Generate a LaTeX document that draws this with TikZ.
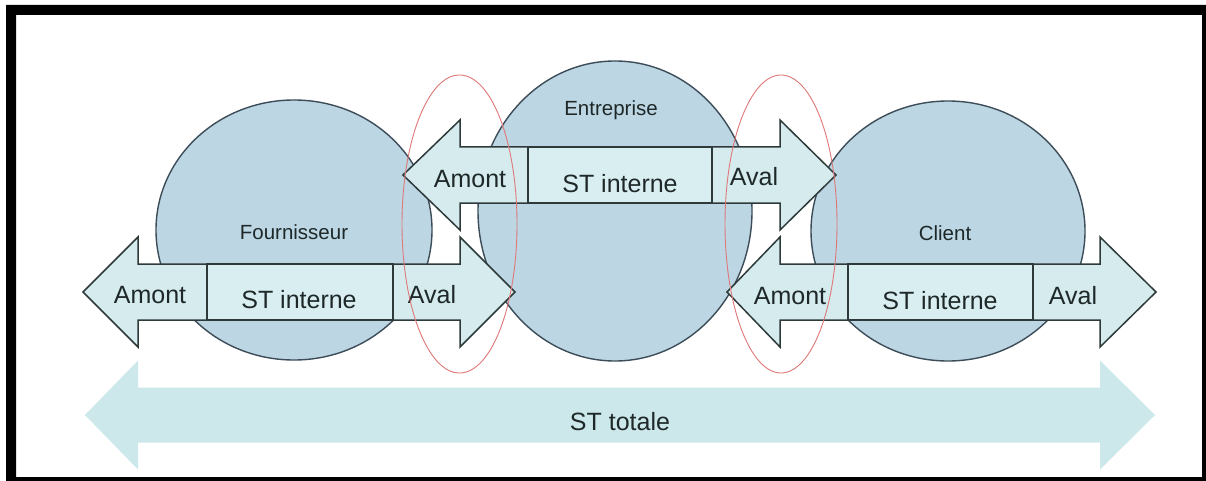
\documentclass[tikz,border=0pt]{standalone}
\usepackage{fontspec}
\setmainfont{Liberation Sans}
\usetikzlibrary{shapes.geometric}
\definecolor{circfill}{HTML}{BCD6E3}
\definecolor{circline}{HTML}{3C4C58}
\definecolor{arrfill}{HTML}{D5EBEE}
\definecolor{boxfill}{HTML}{D9EEF1}
\definecolor{arrline}{HTML}{2E3A3A}
\definecolor{bigarr}{HTML}{CDE8EA}
\definecolor{ovalred}{HTML}{E07878}
\definecolor{txt}{HTML}{1E2828}
\newcommand\dblarrow[7]{% left tip, left base, right base, right tip, center y, half shaft ; style
  \path[#7] (#1,#5) -- (#2,#5-#6-27) -- (#2,#5-#6) -- (#3,#5-#6) -- (#3,#5-#6-27) -- (#4,#5)
    -- (#3,#5+#6+27) -- (#3,#5+#6) -- (#2,#5+#6) -- (#2,#5+#6+27) -- cycle;}
\begin{document}
\begin{tikzpicture}[x=1pt,y=-1pt,
  circ/.style={draw=circline,fill=circfill,line width=1.4pt,ellipse,inner sep=0pt},
  arrowshape/.style={draw=arrline,fill=arrfill,line width=1.5pt,line join=miter},
  stbox/.style={draw=arrline,fill=boxfill,line width=1.5pt,inner sep=0pt},
  big/.style={font=\fontsize{25}{28}\selectfont,text=txt,inner sep=0pt},
  small/.style={font=\fontsize{20.5}{24}\selectfont,text=txt,inner sep=0pt},
  oval/.style={draw=ovalred,line width=0.9pt}]
\useasboundingbox (0,0) rectangle (1206,481);
\fill[white] (0,0) rectangle (1206,481);
% big ST totale arrow
\dblarrow{85}{138}{1100}{1155}{415}{27.5}{fill=bigarr}
\node[big] (tot) at (620,422) {ST totale};
% circles
\node[circ,minimum width=276,minimum height=260] (four) at (294,230) {};
\node[circ,minimum width=274,minimum height=300] (entr) at (615,211) {};
\node[circ,minimum width=274,minimum height=260] (cli) at (948,231) {};
\node[small] (fourl) at (294,232) {Fournisseur};
\node[small] (entrl) at (611,110) {Entreprise};
\node[small] (clil) at (945,233) {Client};
% arrows
\dblarrow{83}{138}{460}{515}{292}{28}{arrowshape}
\dblarrow{403}{460}{780}{836}{175}{28}{arrowshape}
\dblarrow{727}{780}{1100}{1156}{292}{28}{arrowshape}
% boxes
\node[stbox,minimum width=186,minimum height=56] (b1) at (300,292) {};
\node[stbox,minimum width=184,minimum height=56] (b2) at (620,175) {};
\node[stbox,minimum width=185,minimum height=56] (b3) at (940.5,292) {};
% labels
\node[big] (am1) at (150,295) {Amont};
\node[big] (st1) at (299,300) {ST interne};
\node[big] (av1) at (432,295) {Aval};
\node[big] (am2) at (470,179) {Amont};
\node[big] (st2) at (620,184) {ST interne};
\node[big] (av2) at (754,177) {Aval};
\node[big] (am3) at (790,296) {Amont};
\node[big] (st3) at (940,301) {ST interne};
\node[big] (av3) at (1073,296) {Aval};
% red ovals
\draw[oval] (459.5,224) ellipse [x radius=57.5,y radius=149];
\draw[oval] (781,224) ellipse [x radius=56,y radius=149];
% frame
\fill[black,even odd rule] (6,5) rectangle (1206,481) (16,15) rectangle (1202,477);
\end{tikzpicture}
\end{document}
